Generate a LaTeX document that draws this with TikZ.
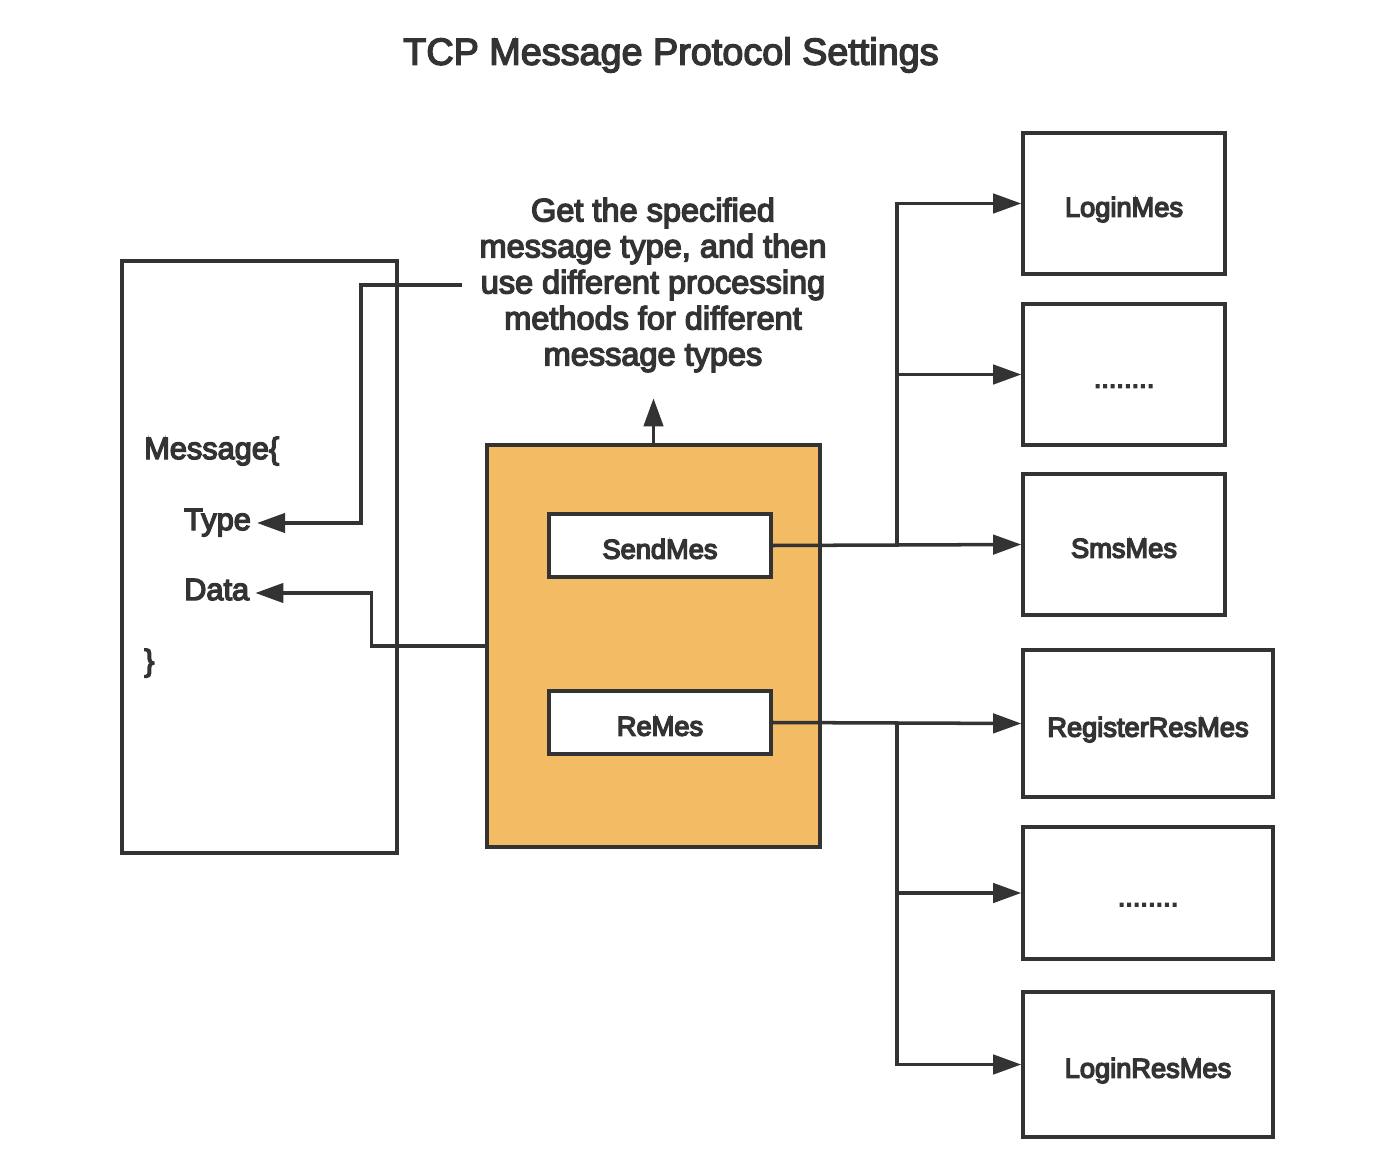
\documentclass[tikz,border=0pt]{standalone}
\usepackage{fontspec}
\setmainfont{Liberation Sans}
\usepackage{xcolor}
\usepackage{tikz}
\usetikzlibrary{arrows.meta}
\usetikzlibrary{positioning}

\definecolor{inkgray}{HTML}{333333}
\definecolor{procorange}{HTML}{F3BB63}

% slightly heavier strokes for the text (fill + stroke render mode)
\newcommand{\heavier}{\special{pdf:literal direct 2 Tr 0.8 w}}

\tikzset{
    conn/.style={draw=inkgray, line width=2pt},
    mesbox/.style={draw=inkgray, line width=2pt, fill=white, inner sep=0pt,
        text height=15pt, text depth=0pt,
        text=inkgray, font=\fontsize{15.5pt}{18pt}\selectfont\heavier},
    fieldlbl/.style={anchor=west, text=inkgray, text height=8pt, text depth=0pt,
        font=\fontsize{17.5pt}{20pt}\selectfont\heavier}
}

\begin{document}
\begin{tikzpicture}[x=0.02cm, y=-0.02cm, >={Triangle[length=16pt,width=11pt]}]
        \useasboundingbox (0,0) rectangle (1400,1172);

        % Title
        \node[text=inkgray, font=\fontsize{21.5pt}{24pt}\selectfont\heavier] (title) at (671,55) {TCP Message Protocol Settings};

        % Message struct on the left
        \node[draw=inkgray, line width=2pt, minimum width=5.5cm, minimum height=11.84cm] (msg) at (259.5,557) {};
        \node[fieldlbl] (lblMsg) at (138,452) {Message\{};
        \node[fieldlbl] (lblType) at (178,523) {Type};
        \node[fieldlbl] (lblData) at (178,593) {Data};
        \node[fieldlbl] (lblClose) at (138,664) {\}};

        % Processing block with the two message kinds
        \node[draw=inkgray, line width=2pt, fill=procorange, minimum width=6.66cm, minimum height=8.04cm] (proc) at (653.5,646) {};
        \node[mesbox, minimum width=4.44cm, minimum height=1.26cm] (send) at (660,545.5) {SendMes};
        \node[mesbox, minimum width=4.44cm, minimum height=1.26cm] (re) at (660,722.5) {ReMes};

        % Note above the block
        \node[align=center, text=inkgray, inner sep=0.34cm, font=\fontsize{18.5pt}{20.5pt}\selectfont\heavier] (desc) at (653,285)
            {Get the specified\\message type, and then\\use different processing\\methods for different\\message types};

        % Message types on the right
        \node[mesbox, minimum width=4.04cm, minimum height=2.82cm] (login) at (1124,203.5) {LoginMes};
        \node[mesbox, minimum width=4.04cm, minimum height=2.82cm] (dotsA) at (1124,374.5) {........};
        \node[mesbox, minimum width=4.04cm, minimum height=2.82cm] (sms) at (1124,544.5) {SmsMes};
        \node[mesbox, minimum width=5cm, minimum height=2.94cm] (regres) at (1148,723.5) {RegisterResMes};
        \node[mesbox, minimum width=5cm, minimum height=2.64cm] (dotsB) at (1148,893) {........};
        \node[mesbox, minimum width=5cm, minimum height=2.9cm] (loginres) at (1148,1064.5) {LoginResMes};

        % Branch points
        \coordinate (jSend) at (897,545.5);
        \coordinate (jRe) at (897,723);

        % Arrows back into the struct
        \draw[conn, ->] (desc.west) -- ++(-101,0) |- (lblType.east);
        \draw[conn, ->] (proc.west) -- ++(-114,0) |- (lblData.east);

        % Arrow up to the note
        \draw[conn, ->] (proc.north) -- ++(0,-45);

        % SendMes fan out
        \draw[conn, ->] (send.east) -- (sms.west);
        \draw[conn, ->] (jSend) |- (login.west);
        \draw[conn, ->] (jSend) |- (dotsA.west);

        % ReMes fan out
        \draw[conn, ->] (re.east) -- (regres.west);
        \draw[conn, ->] (jRe) |- (dotsB.west);
        \draw[conn, ->] (jRe) |- (loginres.west);
    \end{tikzpicture}
\end{document}
